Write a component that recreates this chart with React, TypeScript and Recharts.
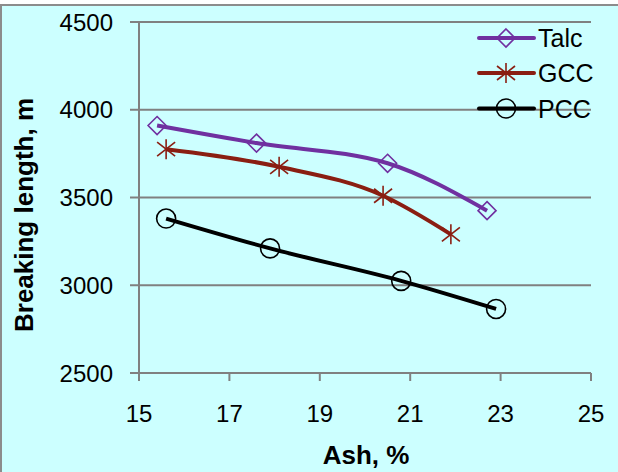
import { LineChart, Line, XAxis, YAxis, CartesianGrid, Legend } from "recharts";

const talcAsh = [15.4, 17.6, 20.5, 22.7];
const talcLength = [3910, 3810, 3695, 3425];
const gccAsh = [15.6, 18.1, 20.4, 21.9];
const gccLength = [3775, 3675, 3510, 3290];
const pccAsh = [15.6, 17.9, 20.8, 22.9];
const pccLength = [3380, 3210, 3025, 2865];

const xTicks = [15, 17, 19, 21, 23, 25];
const yTicks = [2500, 3000, 3500, 4000, 4500];

const seriesNames = ["Talc", "GCC", "PCC"];

const toRows = (ash: number[], len: number[]) =>
  ash.map((a, i) => ({ ash: a, length: len[i] }));

const talcData = toRows(talcAsh, talcLength);
const gccData = toRows(gccAsh, gccLength);
const pccData = toRows(pccAsh, pccLength);

const PURPLE = "#7030a0";
const RED = "#8a1e12";
const BLACK = "#000000";
const GRID = "#808080";
const FONT = "'Liberation Sans', Arial, sans-serif";

function Diamond({ cx, cy }: { cx: number; cy: number }) {
  const r = 9;
  return (
    <polygon
      points={`${cx},${cy - r} ${cx + r},${cy} ${cx},${cy + r} ${cx - r},${cy}`}
      fill="none"
      stroke={PURPLE}
      strokeWidth={1.6}
    />
  );
}

function Star({ cx, cy }: { cx: number; cy: number }) {
  return (
    <g stroke={RED} strokeWidth={1.6}>
      <line x1={cx} y1={cy - 10} x2={cx} y2={cy + 10} />
      <line x1={cx - 9} y1={cy - 7} x2={cx + 9} y2={cy + 7} />
      <line x1={cx - 9} y1={cy + 7} x2={cx + 9} y2={cy - 7} />
    </g>
  );
}

function Ring({ cx, cy }: { cx: number; cy: number }) {
  return <circle cx={cx} cy={cy} r={9.5} fill="none" stroke={BLACK} strokeWidth={1.6} />;
}

const dotFor = (Shape: typeof Diamond) => (p: any) =>
  <Shape key={`${p.index}`} cx={p.cx} cy={p.cy} />;

function LegendBox() {
  const rows = [
    { name: seriesNames[0], color: PURPLE, Shape: Diamond, y: 38 },
    { name: seriesNames[1], color: RED, Shape: Star, y: 73 },
    { name: seriesNames[2], color: BLACK, Shape: Ring, y: 108.5 },
  ];
  return (
    <svg width={148} height={130} style={{ display: "block" }}>
      {rows.map((r) => (
        <g key={r.name}>
          <line x1={9} y1={r.y} x2={64} y2={r.y} stroke={r.color} strokeWidth={4} strokeLinecap="round" />
          <r.Shape cx={36} cy={r.y} />
          <text x={68} y={r.y + 9} fontSize={25} fontFamily={FONT} fill="#000">
            {r.name}
          </text>
        </g>
      ))}
    </svg>
  );
}

const XTitle = () => (
  <text x={366} y={464} textAnchor="middle" fontSize={26} fontWeight="bold" fontFamily={FONT} fill="#000">
    Ash, %
  </text>
);

const YTitle = () => (
  <text
    x={33}
    y={215}
    transform="rotate(-90, 33, 215)"
    textAnchor="middle"
    fontSize={26}
    fontWeight="bold"
    fontFamily={FONT}
    fill="#000"
  >
    Breaking length, m
  </text>
);

export default function App() {
  const tickStyle = { fontSize: 24, fill: "#000", fontFamily: FONT };
  return (
    <div style={{ position: "fixed", top: 0, left: 0, width: 618, height: 472, background: "#fff" }}>
      <div
        style={{
          position: "absolute",
          top: 4,
          left: 0,
          width: 618,
          height: 468,
          background: "#ccffff",
          borderTop: "2px solid #8c8c8c",
          borderLeft: "2px solid #8c8c8c",
          boxSizing: "border-box",
        }}
      />
      <div style={{ position: "absolute", top: 0, left: 0 }}>
        <LineChart width={618} height={472} margin={{ top: 22, right: 27, bottom: 39, left: 0 }}>
          <CartesianGrid vertical={false} stroke={GRID} strokeWidth={2} />
          <XAxis
            dataKey="ash"
            type="number"
            domain={[15, 25]}
            ticks={xTicks}
            interval={0}
            allowDataOverflow
            height={60}
            stroke={GRID}
            strokeWidth={2}
            tickSize={8}
            tickMargin={24}
            tick={tickStyle}
            tickLine={{ stroke: GRID, strokeWidth: 2 }}
            label={XTitle}
          />
          <YAxis
            type="number"
            domain={[2500, 4500]}
            ticks={yTicks}
            interval={0}
            width={139}
            stroke={GRID}
            strokeWidth={2}
            tickSize={9}
            tickMargin={17}
            tick={tickStyle}
            tickLine={{ stroke: GRID, strokeWidth: 2 }}
            label={YTitle}
          />
          <Legend
            layout="horizontal"
            align="center"
            verticalAlign="middle"
            wrapperStyle={{ position: "absolute", top: 0, left: 470, width: 148, height: 130 }}
            content={() => <LegendBox />}
          />
          <Line
            data={talcData}
            dataKey="length"
            name={seriesNames[0]}
            type="monotone"
            stroke={PURPLE}
            strokeWidth={4}
            dot={dotFor(Diamond)}
            activeDot={false}
            isAnimationActive={false}
          />
          <Line
            data={gccData}
            dataKey="length"
            name={seriesNames[1]}
            type="monotone"
            stroke={RED}
            strokeWidth={4}
            dot={dotFor(Star)}
            activeDot={false}
            isAnimationActive={false}
          />
          <Line
            data={pccData}
            dataKey="length"
            name={seriesNames[2]}
            type="monotone"
            stroke={BLACK}
            strokeWidth={4}
            dot={dotFor(Ring)}
            activeDot={false}
            isAnimationActive={false}
          />
        </LineChart>
      </div>
    </div>
  );
}
